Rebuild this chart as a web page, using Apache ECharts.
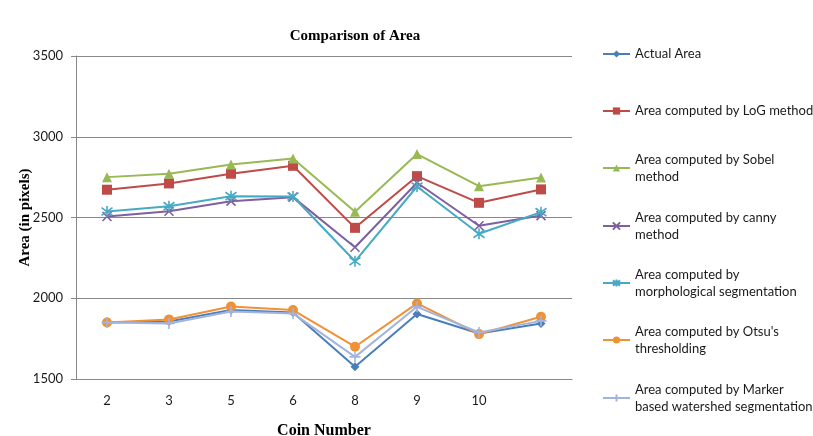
<!DOCTYPE html>
<html><head><meta charset="utf-8">
<script src="https://cdn.jsdelivr.net/npm/echarts@6/dist/echarts.min.js"></script>
<style>html,body{margin:0;padding:0;background:#fff}#c{width:813px;height:436px}</style>
</head><body><div id="c"></div>
<script>
const categories = ["2","3","5","6","8","9","10",""];
const actualArea = [1850,1856,1927,1912,1576,1902,1782,1844];
const logArea = [2672,2711,2771,2820,2436,2756,2591,2674];
const sobelArea = [2750,2771,2828,2866,2535,2893,2694,2748];
const cannyArea = [2506,2539,2601,2626,2316,2715,2449,2512];
const morphArea = [2537,2570,2632,2630,2229,2692,2399,2533];
const otsuArea = [1850,1869,1949,1927,1700,1968,1778,1885];
const markerArea = [1850,1844,1918,1906,1637,1947,1788,1860];
const yTicks = [1500,2000,2500,3000,3500];

const names = ["Actual Area","Area computed by LoG method","Area computed by Sobel\nmethod","Area computed by canny\nmethod","Area computed by\nmorphological segmentation","Area computed by Otsu's\nthresholding","Area computed by Marker\nbased watershed segmentation"];
const dataSets = [actualArea,logArea,sobelArea,cannyArea,morphArea,otsuArea,markerArea];
const colors = ["#4A7EBB","#BE4B48","#98B954","#7D60A0","#46AAC5","#F09136","#A3B4DC"];
const X = 'path://M0,0L10,10M10,0L0,10';
const AST = 'path://M0,0L10,10M10,0L0,10M5,-2L5,12';
const PLUS = 'path://M5,0L5,10M0,5L10,5';
const symbols = ['diamond','rect','triangle',X,AST,'circle',PLUS];
const sizes = [9,10,10,9,11,10,11];
const legendY = [49,106,163,221,278,335,393];
const LH = 17;

const series = names.map((n,i)=>{
  const stroke = typeof symbols[i]==='string' && symbols[i].startsWith('path');
  return {
    name:n, type:'line', data:dataSets[i], symbol:symbols[i], symbolSize:sizes[i],
    showAllSymbol:true,
    lineStyle:{color:colors[i],width:2},
    itemStyle:{color:stroke?'rgba(0,0,0,0)':colors[i],borderColor:colors[i],borderWidth:stroke?1.6:0},
    z:2+i
  };
});

const legends = names.map((n,i)=>{
  const two = n.indexOf('\n')>=0;
  return {
    data:[n], left:597, top: two ? legendY[i]-1.5*LH : legendY[i]-LH/2,
    itemWidth:27, itemHeight:9, itemGap:0,
    textStyle:{fontFamily:'Lato', fontSize:13, color:'#1a1a1a', lineHeight:LH, padding: two?[LH,0,0,0]:0}
  };
});

const chart = echarts.init(document.getElementById('c'));
chart.setOption({
  animation:false,
  backgroundColor:'#fff',
  title:{text:'Comparison of Area', left:350, top:24, textAlign:'center',
    textStyle:{fontFamily:'Liberation Serif', fontWeight:'bold', fontSize:15, color:'#000'}},
  legend:legends,
  grid:{left:76, right:241, top:56, bottom:57, containLabel:false, outerBoundsMode:'none'},
  xAxis:{type:'category', data:categories, boundaryGap:true,
    name:'Coin Number', nameLocation:'middle', nameGap:44,
    nameTextStyle:{fontFamily:'Liberation Serif', fontWeight:'bold', fontSize:16, color:'#000'},
    axisLine:{lineStyle:{color:'#888'}}, axisTick:{length:5, lineStyle:{color:'#888'}},
    axisLabel:{fontFamily:'Lato', fontSize:13, color:'#1a1a1a', margin:15}},
  yAxis:{type:'value', min:yTicks[0], max:yTicks[yTicks.length-1], interval:500,
    name:'Area (in pixels)', nameLocation:'middle', nameGap:43, nameMoveOverlap:false,
    nameTextStyle:{fontFamily:'Liberation Serif', fontWeight:'bold', fontSize:15, color:'#000'},
    axisLine:{show:true, lineStyle:{color:'#888'}}, axisTick:{show:true, length:5, lineStyle:{color:'#888'}},
    splitLine:{lineStyle:{color:'#888'}},
    axisLabel:{fontFamily:'Lato', fontSize:13, color:'#1a1a1a', margin:13, formatter:v=>String(v)}},
  series:series
});
</script></body></html>
